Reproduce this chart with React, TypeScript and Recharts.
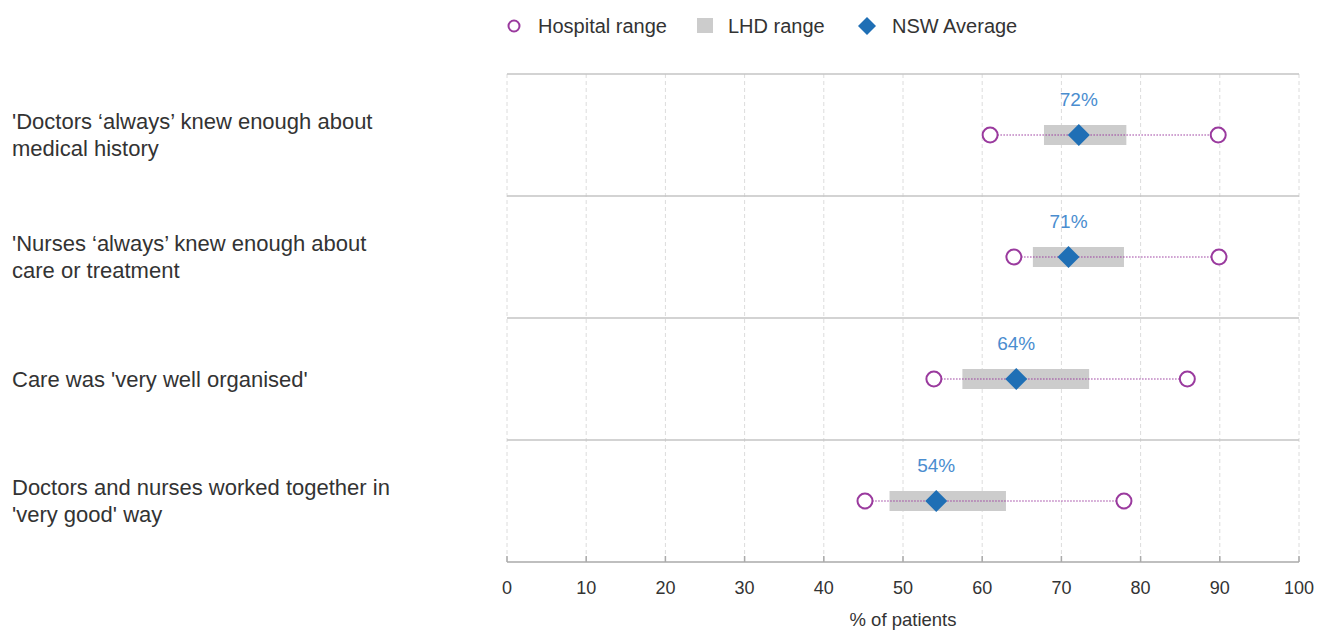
import { ComposedChart, Bar, XAxis, YAxis, CartesianGrid } from 'recharts'

const categories = [
  ["'Doctors \u2018always\u2019 knew enough about", 'medical history'],
  ["'Nurses \u2018always\u2019 knew enough about", 'care or treatment'],
  ["Care was 'very well organised'"],
  ['Doctors and nurses worked together in', "'very good' way"],
]
const hospitalMin = [61.0, 64.0, 53.9, 45.2]
const hospitalMax = [89.8, 89.9, 85.9, 77.9]
const lhdMin = [67.8, 66.4, 57.5, 48.3]
const lhdMax = [78.2, 77.9, 73.5, 63.0]
const nswAverage = [72.2, 70.9, 64.3, 54.2]
const nswLabels = ['72%', '71%', '64%', '54%']
const xTicks = [0, 10, 20, 30, 40, 50, 60, 70, 80, 90, 100]

const rows = categories.map((lines, i) => ({
  name: lines.join(' '),
  lines,
  hospital: [hospitalMin[i], hospitalMax[i]],
  lhd: [lhdMin[i], lhdMax[i]],
  nsw: nswAverage[i],
  label: nswLabels[i],
}))

const FONT = '"Liberation Sans", Arial, sans-serif'
const PURPLE = '#9a3a9e'
const BLUE = '#1f6fb5'
const LABEL_BLUE = '#4a8dcf'
const TEXT = '#333'

const HospitalShape = (props: any) => {
  const { x, y, width, height } = props
  const cy = y + height / 2
  const r = 7.5
  return (
    <g>
      <line x1={x + r} x2={x + width - r} y1={cy} y2={cy} stroke={PURPLE} strokeWidth={1.5} strokeDasharray="1 2" />
      <circle cx={x} cy={cy} r={r} fill="#fff" stroke={PURPLE} strokeWidth={2} />
      <circle cx={x + width} cy={cy} r={r} fill="#fff" stroke={PURPLE} strokeWidth={2} />
    </g>
  )
}

const NswShape = (props: any) => {
  const { x, y, width, height, payload } = props
  const cx = x + width
  const cy = y + height / 2
  const h = 11
  return (
    <g>
      <polygon points={`${cx},${cy - h} ${cx + h},${cy} ${cx},${cy + h} ${cx - h},${cy}`} fill={BLUE} />
      <text x={cx} y={cy - 29} textAnchor="middle" fontSize={19} fill={LABEL_BLUE} fontFamily={FONT}>
        {payload.label}
      </text>
    </g>
  )
}

const CategoryTick = (props: any) => {
  const { y, index } = props
  const lines = rows[index]?.lines ?? []
  const start = lines.length > 1 ? y - 6 : y + 8
  return (
    <text x={12} y={start} fontSize={22} fill={TEXT} fontFamily={FONT}>
      {lines.map((l, i) => (
        <tspan key={i} x={12} dy={i === 0 ? 0 : 27}>
          {l}
        </tspan>
      ))}
    </text>
  )
}

const ValueTick = (props: any) => {
  const { x, y, payload } = props
  return (
    <g>
      <line x1={x} x2={x} y1={y - 6} y2={y} stroke="#aaa" strokeWidth={1.5} />
      <text x={x} y={y + 32} textAnchor="middle" fontSize={18} fill={TEXT} fontFamily={FONT}>
        {payload.value}
      </text>
    </g>
  )
}

const LegendBar = () => (
  <svg width={1317} height={50} style={{ position: 'absolute', left: 0, top: 0, display: 'block' }}>
    <circle cx={514} cy={26} r={5.5} fill="#fff" stroke={PURPLE} strokeWidth={2} />
    <text x={538} y={33} fontSize={20} fill={TEXT} fontFamily={FONT}>Hospital range</text>
    <rect x={697} y={18} width={16} height={15} fill="#cccccc" />
    <text x={728} y={33} fontSize={20} fill={TEXT} fontFamily={FONT}>LHD range</text>
    <polygon points="867,17 876,26 867,35 858,26" fill={BLUE} />
    <text x={892} y={33} fontSize={20} fill={TEXT} fontFamily={FONT}>NSW Average</text>
  </svg>
)

export default function App() {
  return (
    <div style={{ position: 'fixed', left: 0, top: 0, width: 1317, height: 630, background: '#fff', fontFamily: FONT }}>
      <ComposedChart
        width={1317}
        height={630}
        data={rows}
        layout="vertical"
        margin={{ top: 74, right: 18, bottom: 0, left: 0 }}
        barGap={-20}
        barCategoryGap={0}
      >
        <CartesianGrid horizontal={false} stroke="#dcdcdc" strokeDasharray="4 3" />
        <CartesianGrid
          vertical={false}
          stroke="#c4c4c4"
          strokeWidth={1.5}
          horizontalCoordinatesGenerator={({ offset }: any) =>
            [0, 1, 2, 3].map((i) => offset.top + (i * offset.height) / 4)
          }
        />
        <XAxis
          type="number"
          domain={[0, 100]}
          ticks={xTicks}
          height={68}
          tickLine={false}
          tickSize={0}
          tickMargin={0}
          axisLine={{ stroke: '#aaa', strokeWidth: 1.5 }}
          tick={<ValueTick />}
          label={{ value: '% of patients', position: 'insideBottom', offset: 4, fill: TEXT, fontSize: 18.5, fontFamily: FONT }}
        />
        <YAxis type="category" dataKey="name" width={507} axisLine={false} tickLine={false} tick={<CategoryTick />} />
        <Bar dataKey="lhd" fill="#cccccc" barSize={20} isAnimationActive={false} />
        <Bar dataKey="hospital" barSize={20} shape={<HospitalShape />} isAnimationActive={false} />
        <Bar dataKey="nsw" barSize={20} shape={<NswShape />} isAnimationActive={false} />
      </ComposedChart>
      <LegendBar />
    </div>
  )
}
